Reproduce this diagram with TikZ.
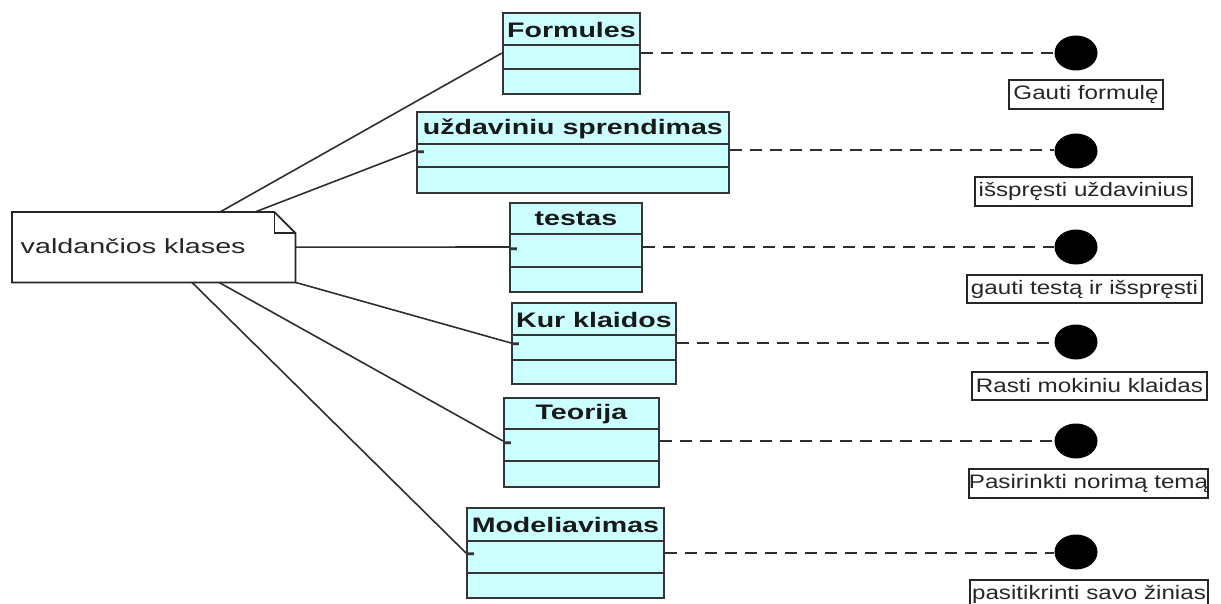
\documentclass[tikz,border=0pt]{standalone}
\usepackage{fontspec}
\setmainfont{Liberation Sans}
\newfontfamily\notefont[FakeStretch=1.4]{Liberation Sans}
\newfontfamily\labelfont[FakeStretch=1.24]{Liberation Sans}
\newfontfamily\titlefont[FakeStretch=1.36]{Liberation Sans}
\usetikzlibrary{shapes.geometric}

\definecolor{clsfill}{HTML}{CCFFFF}
\definecolor{clsline}{HTML}{353535}
\definecolor{wire}{HTML}{2E2E2E}

\tikzset{
  classbox/.style={draw=clsline, fill=clsfill, line width=1.8pt, inner sep=0pt},
  divider/.style={draw=clsline, line width=1.8pt},
  titletext/.style={inner sep=0pt, font=\titlefont\bfseries\fontsize{21pt}{24pt}\selectfont, text=black!90},
  vismark/.style={inner sep=0pt, anchor=west, font=\bfseries\fontsize{24pt}{26pt}\selectfont, text=clsline},
  notebox/.style={inner sep=0pt},
  noteline/.style={draw=black!85, line width=1.8pt, fill=white, line join=miter},
  notetext/.style={inner sep=0pt, font=\notefont\fontsize{20.5pt}{24pt}\selectfont, text=black!85},
  assoc/.style={draw=wire, line width=1.6pt},
  realize/.style={draw=wire, line width=2pt, dash pattern=on 12pt off 8pt},
  ball/.style={ellipse, fill=black, minimum width=43pt, minimum height=35pt, inner sep=0pt},
  lbl/.style={draw=black!85, line width=1.5pt, fill=white, inner sep=0pt,
    font=\labelfont\fontsize{19.5pt}{22pt}\selectfont, text=black!85},
}

% class box: name, left x, top y, width, three compartment heights, title, offset of the link line
\newcommand\umlcls[9]{%
  \node[classbox, anchor=north west, minimum width=#4pt,
        minimum height=#5pt+#6pt+#7pt] (#1) at (#2,#3) {};
  \draw[divider] ([yshift=-#5pt]#1.north west) -- ([yshift=-#5pt]#1.north east);
  \draw[divider] ([yshift=-#5pt-#6pt]#1.north west) -- ([yshift=-#5pt-#6pt]#1.north east);
  \node[titletext] (#1-t) at ([yshift=-#5pt/2-1pt]#1.north) {#8};
  \coordinate (#1-w) at ([yshift=-#9pt]#1.north west);
  \coordinate (#1-e) at ([yshift=-#9pt]#1.north east);
}

\begin{document}
\begin{tikzpicture}[x=1pt, y=-1pt]
\useasboundingbox (0,0) rectangle (1221,604);
\clip (0,0) rectangle (1221,604);

% note with folded corner
\node[notebox, anchor=north west, minimum width=283pt, minimum height=70pt] (note) at (12,212) {};

% attachment points on the note
\coordinate (n1) at ([xshift=208pt]note.north west);
\coordinate (n2) at ([xshift=243pt]note.north west);
\coordinate (n4) at (note.south east);
\coordinate (n5) at ([xshift=207pt]note.south west);
\coordinate (n6) at ([xshift=180pt]note.south west);

% classes
\umlcls{formules}{502}{12}{137}{33}{24}{24}{Formules}{41}
\umlcls{uzd}{416}{111}{312}{33}{23}{25}{uždaviniu sprendimas}{39}
\umlcls{testas}{509}{202}{132}{32}{33}{24}{testas}{45}
\umlcls{kur}{511}{302}{164}{33}{25}{23}{Kur klaidos}{41}
\umlcls{teorija}{503}{397}{155}{32}{32}{25}{Teorija}{44}
\umlcls{model}{466}{507}{197}{34}{32}{24}{Modeliavimas}{46}

% links from the note to the classes
\draw[assoc] (n1) -- (formules-w);
\draw[assoc] (n2) -- (uzd-w);
\draw[assoc] (note.east) -- (testas-w);
\draw[assoc] (n4) -- (kur-w);
\draw[assoc] (n5) -- (teorija-w);
\draw[assoc] (n6) -- (model-w);

\draw[noteline] (note.north west) -- ([xshift=-21pt]note.north east)
  -- ([yshift=-21pt]note.north east) -- (note.south east) -- (note.south west) -- cycle;
\draw[noteline, fill=none] ([xshift=-21pt]note.north east) |- ([yshift=-21pt]note.north east);
\node[notetext, anchor=base west] (notelabel) at ([xshift=8.5pt, yshift=-6pt]note.west) {valdančios klases};

% visibility marks in the attribute compartments
\node[vismark] (m2) at ([xshift=1pt, yshift=-5pt]uzd-w) {-};
\node[vismark] (m3) at ([xshift=1pt, yshift=-5pt]testas-w) {-};
\node[vismark] (m4) at ([xshift=1pt, yshift=-4pt]kur-w) {-};
\node[vismark] (m5) at ([xshift=1pt, yshift=-5pt]teorija-w) {-};
\node[vismark] (m6) at ([xshift=1pt, yshift=-4pt]model-w) {-};

% provided interfaces
\node[ball] (i1) at (1076,53) {};
\node[ball] (i2) at (1076,151) {};
\node[ball] (i3) at (1076,247) {};
\node[ball] (i4) at (1076,342) {};
\node[ball] (i5) at (1076,441) {};
\node[ball] (i6) at (1076,552) {};

\draw[realize] (formules-e) -- (i1.west |- formules-e);
\draw[realize] (uzd-e) -- (i2.west |- uzd-e);
\draw[realize] (testas-e) -- (i3.west |- testas-e);
\draw[realize] (kur-e) -- (i4.west |- kur-e);
\draw[realize] (teorija-e) -- (i5.west |- teorija-e);
\draw[realize] (model-e) -- (i6.west |- model-e);

% interface names
\node[lbl, minimum width=154pt, minimum height=29pt] (l1) at (1086,94.5) {Gauti formulę};
\node[lbl, minimum width=217pt, minimum height=29pt] (l2) at (1083.5,191.5) {išspręsti uždavinius};
\node[lbl, minimum width=235pt, minimum height=28pt] (l3) at (1084.5,289) {gauti testą ir išspręsti};
\node[lbl, minimum width=235pt, minimum height=28pt] (l4) at (1089.5,386) {Rasti mokiniu klaidas};
\node[lbl, minimum width=237pt, minimum height=29pt] (l5) at (1088.5,483.5) {Pasirinkti norimą temą};
\node[lbl, minimum width=238pt, minimum height=29pt] (l6) at (1089,594.5) {pasitikrinti savo žinias};
\end{tikzpicture}
\end{document}
